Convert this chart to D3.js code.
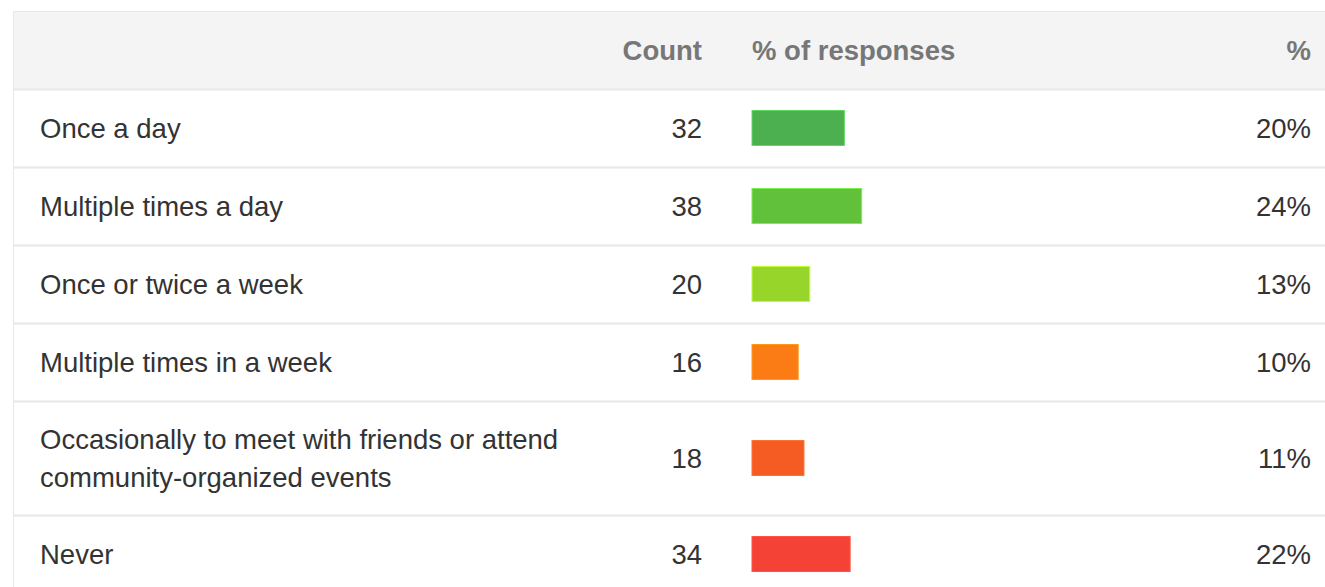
<!DOCTYPE html>
<html>
<head>
  <meta charset="utf-8">
  <script src="https://d3js.org/d3.v7.min.js"></script>
  <style>
    body { margin: 0; background: #fff; }
    svg text { font-family: "Liberation Sans", Arial, sans-serif; font-size: 27.5px; }
  </style>
</head>
<body>
<script>
  // survey answers
  var answers = [
    "Once a day",
    "Multiple times a day",
    "Once or twice a week",
    "Multiple times in a week",
    "Occasionally to meet with friends or attend community-organized events",
    "Never"
  ];
  var counts = [32, 38, 20, 16, 18, 34];
  var percentLabels = ["20%", "24%", "13%", "10%", "11%", "22%"];
  var barColors = ["#4caf50", "#62c13b", "#98d52a", "#fb7c14", "#f55c24", "#f44336"];
  var headers = ["Count", "% of responses", "%"];

  var width = 1325, height = 587;
  var tableLeft = 14, tableTop = 12;
  var headerH = 77, baseRowH = 78, extraLineH = 36, lineH = 38;
  var total = d3.sum(counts);

  var svg = d3.select("body").append("svg")
      .attr("width", width)
      .attr("height", height);

  // bar length: share of all responses
  var x = d3.scaleLinear().domain([0, 1]).range([0, 456]);

  // header
  svg.append("rect")
      .attr("x", tableLeft).attr("y", tableTop)
      .attr("width", width - tableLeft).attr("height", headerH)
      .attr("fill", "#f4f4f4");

  var hy = tableTop + headerH / 2 + 9.5;
  svg.append("text").attr("x", 702).attr("y", hy).attr("text-anchor", "end")
      .attr("font-weight", "bold").attr("fill", "#777").text(headers[0]);
  svg.append("text").attr("x", 752).attr("y", hy)
      .attr("font-weight", "bold").attr("fill", "#777").text(headers[1]);
  svg.append("text").attr("x", 1311).attr("y", hy).attr("text-anchor", "end")
      .attr("font-weight", "bold").attr("fill", "#777").text(headers[2]);

  // wrap labels to the first column
  function wrapLines(str, maxW) {
    var probe = svg.append("text").attr("visibility", "hidden");
    var words = str.split(" "), lines = [], cur = "";
    words.forEach(function(w) {
      var test = cur ? cur + " " + w : w;
      probe.text(test);
      if (probe.node().getComputedTextLength() > maxW && cur) {
        lines.push(cur);
        cur = w;
      } else {
        cur = test;
      }
    });
    lines.push(cur);
    probe.remove();
    return lines;
  }

  var rows = [];
  var y0 = tableTop + headerH;
  answers.forEach(function(a, i) {
    var lines = wrapLines(a, 560);
    var h = baseRowH + (lines.length - 1) * extraLineH;
    rows.push({ label: lines, count: counts[i], pct: percentLabels[i], color: barColors[i], y: y0, h: h });
    y0 += h;
  });

  var g = svg.selectAll("g.row").data(rows).enter().append("g")
      .attr("class", "row")
      .attr("transform", function(d) { return "translate(0," + d.y + ")"; });

  g.append("line")
      .attr("x1", tableLeft).attr("x2", width)
      .attr("y1", 0.5).attr("y2", 0.5)
      .attr("stroke", "#e8e8e8").attr("stroke-width", 2);

  g.append("text")
      .attr("fill", "#333")
      .each(function(d) {
        var t = d3.select(this);
        var startY = d.h / 2 + 9.5 - (d.label.length - 1) * lineH / 2;
        d.label.forEach(function(l, k) {
          t.append("tspan").attr("x", 40).attr("y", startY + k * lineH).text(l);
        });
      });

  g.append("text")
      .attr("x", 702).attr("y", function(d) { return d.h / 2 + 9.5; })
      .attr("text-anchor", "end").attr("fill", "#333")
      .text(function(d) { return d.count; });

  g.append("rect")
      .attr("x", 752)
      .attr("y", function(d) { return d.h / 2 - 17.5; })
      .attr("width", function(d) { return x(d.count / total); })
      .attr("height", 35)
      .attr("fill", function(d) { return d.color; })
      .attr("stroke", function(d) { return d3.color(d.color).brighter(0.6); })
      .attr("stroke-width", 1);

  g.append("text")
      .attr("x", 1311).attr("y", function(d) { return d.h / 2 + 9.5; })
      .attr("text-anchor", "end").attr("fill", "#333")
      .text(function(d) { return d.pct; });

  // outer borders
  svg.append("line")
      .attr("x1", tableLeft).attr("x2", width).attr("y1", tableTop - 0.5).attr("y2", tableTop - 0.5)
      .attr("stroke", "#e8e8e8").attr("stroke-width", 1);
  svg.append("line")
      .attr("x1", tableLeft - 0.5).attr("x2", tableLeft - 0.5).attr("y1", tableTop - 1).attr("y2", height)
      .attr("stroke", "#e8e8e8").attr("stroke-width", 1);
</script>
</body>
</html>
